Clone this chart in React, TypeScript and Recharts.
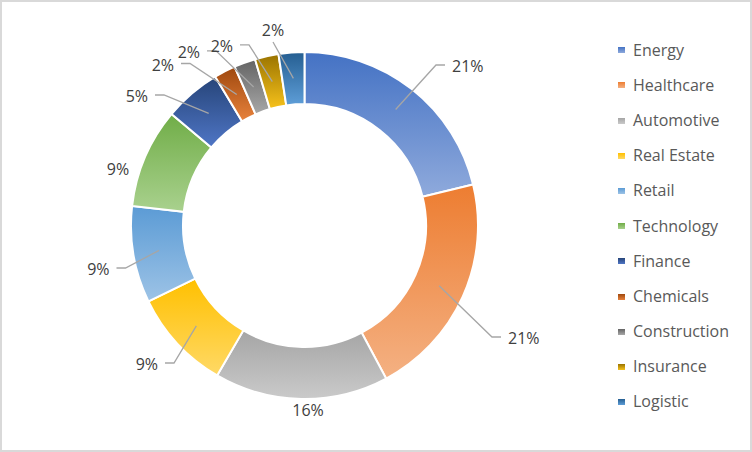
import React from 'react';
import { PieChart, Pie, Cell, Legend } from 'recharts';

const CATEGORIES = [
  'Energy',
  'Healthcare',
  'Automotive',
  'Real Estate',
  'Retail',
  'Technology',
  'Finance',
  'Chemicals',
  'Construction',
  'Insurance',
  'Logistic',
];

// share of portfolio (%)
const SHARES = [21.2, 21.0, 16.2, 9.4, 9.0, 9.3, 5.3, 2.0, 2.0, 2.2, 2.4];

// Office-style gradient fills, top -> bottom
const COLOR_TOP = [
  '#4472C4', '#ED7D31', '#A5A5A5', '#FFC000', '#5B9BD5', '#70AD47',
  '#264478', '#9E480E', '#636363', '#997300', '#255E91',
];
const COLOR_BOTTOM = [
  '#8FAADC', '#F4B183', '#CACACA', '#FFD966', '#9DC3E6', '#A9D18E',
  '#4F76C6', '#E8823C', '#A8A8A8', '#F7C21C', '#5E9ED8',
];

const chartData = CATEGORIES.map((name, i) => ({ name, value: SHARES[i] }));

const W = 752;
const H = 452;
const FONT = '"Open Sans", "Noto Sans", sans-serif';
const RADIAN = Math.PI / 180;

// Excel "best fit" label placement can't be derived, so each label gets a nudge
// relative to the pie centre. anchor: where the text attaches, leader: line style
const LABEL_LAYOUT = [
  { dx: 147.5, dy: -159.5, anchor: 'start', leader: 'stub' },
  { dx: 203.5, dy: 112.5, anchor: 'start', leader: 'stub' },
  { dx: 3.5, dy: 184.5, anchor: 'middle', leader: 'none' },
  { dx: -146.5, dy: 138.5, anchor: 'end', leader: 'stub' },
  { dx: -195, dy: 43.5, anchor: 'end', leader: 'stub' },
  { dx: -186.5, dy: -56.5, anchor: 'middle', leader: 'none' },
  { dx: -156.5, dy: -129.5, anchor: 'end', leader: 'stub' },
  { dx: -130.5, dy: -161, anchor: 'end', leader: 'stub' },
  { dx: -104.5, dy: -173.7, anchor: 'end', leader: 'stub' },
  { dx: -71.5, dy: -179.7, anchor: 'end', leader: 'stub' },
  { dx: -31.5, dy: -195.5, anchor: 'middle', leader: 'direct' },
];

function renderLabel(props: any) {
  const { cx, cy, midAngle, innerRadius, outerRadius, percent, index } = props;
  const layout = LABEL_LAYOUT[index];
  const ringR = (Number(innerRadius) + Number(outerRadius)) / 2;
  const sx = cx + Math.cos(-midAngle * RADIAN) * ringR;
  const sy = cy + Math.sin(-midAngle * RADIAN) * ringR;
  const tx = cx + layout.dx;
  const ty = cy + layout.dy;

  let line: React.ReactNode = null;
  if (layout.leader === 'stub') {
    const dir = layout.anchor === 'start' ? -1 : 1;
    const x1 = tx + dir * 7;
    const x2 = tx + dir * 16;
    line = (
      <polyline
        points={`${x1},${ty - 1} ${x2},${ty - 1} ${sx},${sy}`}
        fill="none"
        stroke="#A6A6A6"
        strokeWidth={1.3}
      />
    );
  } else if (layout.leader === 'direct') {
    line = (
      <line x1={tx} y1={ty + 12} x2={sx} y2={sy} stroke="#A6A6A6" strokeWidth={1.3} />
    );
  }

  return (
    <g key={`label-${index}`}>
      {line}
      <text
        x={tx}
        y={ty + 6}
        textAnchor={layout.anchor}
        fill="#404040"
        fontSize={16}
        fontFamily={FONT}
      >
        {`${Math.round(percent * 100)}%`}
      </text>
    </g>
  );
}

function LegendList() {
  return (
    <div style={{ fontFamily: FONT, fontSize: 16, color: '#595959' }}>
      {CATEGORIES.map((name, i) => (
        <div
          key={name}
          style={{ height: 35.2, lineHeight: '35.2px', display: 'flex', alignItems: 'center', whiteSpace: 'nowrap' }}
        >
          <span
            style={{
              display: 'inline-block',
              width: 7,
              height: 6,
              marginRight: 8,
              background: `linear-gradient(${COLOR_TOP[i]}, ${COLOR_BOTTOM[i]})`,
            }}
          />
          {name}
        </div>
      ))}
    </div>
  );
}

export default function App() {
  return (
    <div
      style={{
        position: 'absolute',
        left: 0,
        top: 0,
        width: W,
        height: H,
        boxSizing: 'border-box',
        border: '2px solid #D9D9D9',
        background: '#FFFFFF',
      }}
    >
      <div style={{ position: 'absolute', left: -2, top: -2 }}>
        <PieChart width={W} height={H} margin={{ top: 0, right: 0, bottom: 0, left: 0 }}>
          <defs>
            {CATEGORIES.map((name, i) => (
              <linearGradient key={name} id={`slice-${i}`} x1="0" y1="0" x2="0" y2="1">
                <stop offset="0%" stopColor={COLOR_TOP[i]} />
                <stop offset="100%" stopColor={COLOR_BOTTOM[i]} />
              </linearGradient>
            ))}
          </defs>
          <Pie
            data={chartData}
            dataKey="value"
            nameKey="name"
            cx={304.5}
            cy={225.5}
            innerRadius={121.5}
            outerRadius={173.5}
            startAngle={90}
            endAngle={-270}
            stroke="#FFFFFF"
            strokeWidth={2}
            label={renderLabel}
            labelLine={false}
            isAnimationActive={false}
          >
            {chartData.map((entry, i) => (
              <Cell key={entry.name} fill={`url(#slice-${i})`} />
            ))}
          </Pie>
          <Legend
            layout="vertical"
            align="right"
            verticalAlign="top"
            content={() => <LegendList />}
            wrapperStyle={{ left: 618, top: 32.6, width: 130, right: 'auto' }}
          />
        </PieChart>
      </div>
    </div>
  );
}
